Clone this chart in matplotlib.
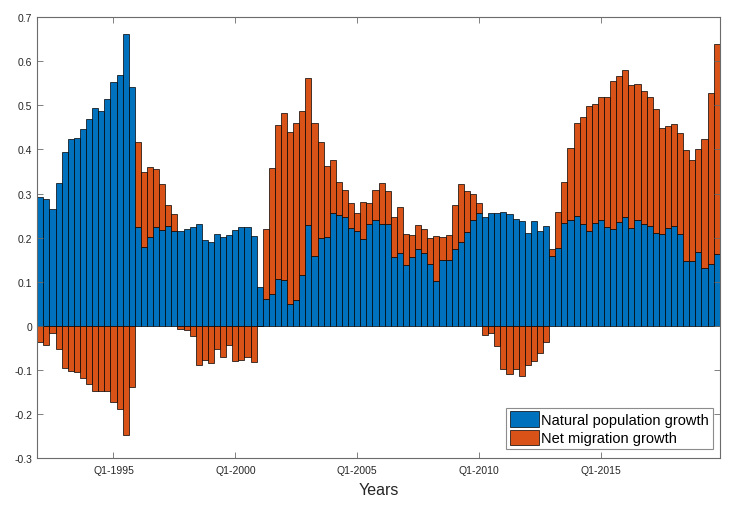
import numpy as np
import matplotlib
matplotlib.use("Agg")
import matplotlib.pyplot as plt

# quarterly series, Q1-1992 .. Q4-2019
start_year = 1992
natural = [
    0.293, 0.288, 0.265, 0.323, 0.394, 0.423, 0.425, 0.446, 0.469, 0.495, 0.487, 0.514,
    0.552, 0.570, 0.663, 0.541, 0.225, 0.178, 0.202, 0.223, 0.217, 0.226, 0.214, 0.215,
    0.220, 0.224, 0.231, 0.195, 0.190, 0.207, 0.202, 0.206, 0.217, 0.223, 0.224, 0.203,
    0.087, 0.061, 0.072, 0.106, 0.103, 0.050, 0.059, 0.115, 0.228, 0.159, 0.200, 0.202,
    0.256, 0.251, 0.247, 0.222, 0.216, 0.196, 0.231, 0.240, 0.230, 0.230, 0.156, 0.165,
    0.137, 0.156, 0.175, 0.165, 0.141, 0.101, 0.148, 0.150, 0.173, 0.190, 0.213, 0.240,
    0.256, 0.246, 0.255, 0.255, 0.258, 0.254, 0.243, 0.237, 0.210, 0.237, 0.214, 0.226,
    0.158, 0.177, 0.232, 0.240, 0.250, 0.230, 0.215, 0.234, 0.239, 0.225, 0.220, 0.235,
    0.246, 0.221, 0.241, 0.230, 0.227, 0.211, 0.208, 0.222, 0.226, 0.207, 0.146, 0.146,
    0.167, 0.130, 0.140, 0.163,
]
migration = [
    -0.038, -0.043, -0.016, -0.052, -0.096, -0.102, -0.104, -0.119, -0.132, -0.149, -0.149, -0.149,
    -0.172, -0.190, -0.248, -0.140, 0.193, 0.171, 0.159, 0.133, 0.104, 0.047, 0.040, -0.008,
    -0.009, -0.024, -0.089, -0.078, -0.085, -0.053, -0.070, -0.043, -0.080, -0.078, -0.072, -0.083,
    0.000, 0.159, 0.285, 0.350, 0.380, 0.390, 0.401, 0.373, 0.334, 0.302, 0.216, 0.161,
    0.120, 0.075, 0.061, 0.056, 0.039, 0.085, 0.048, 0.068, 0.094, 0.076, 0.091, 0.105,
    0.072, 0.050, 0.053, 0.055, 0.057, 0.102, 0.053, 0.056, 0.100, 0.131, 0.093, 0.060,
    0.023, -0.020, -0.017, -0.045, -0.098, -0.109, -0.098, -0.115, -0.089, -0.079, -0.062, -0.036,
    0.017, 0.081, 0.094, 0.163, 0.210, 0.244, 0.283, 0.269, 0.279, 0.295, 0.335, 0.332,
    0.335, 0.326, 0.308, 0.303, 0.292, 0.281, 0.240, 0.231, 0.231, 0.231, 0.252, 0.231,
    0.235, 0.294, 0.389, 0.476,
]
tick_years = [1995, 2000, 2005, 2010, 2015]
series_names = ["Natural population growth", "Net migration growth"]

blue = "#0072BD"
orange = "#D95319"
axis_col = "#6b6b6b"

plt.rcParams['font.family'] = ['Liberation Sans', 'DejaVu Sans']

nat = np.array(natural)
mig = np.array(migration)
x = np.arange(1, len(nat) + 1)

fig = plt.figure(figsize=(7.37, 5.06), dpi=100)
ax = fig.add_axes([0.0506, 0.093, 0.926, 0.871])

ax.bar(x, nat, width=1.0, color=blue, edgecolor="black", linewidth=0.5,
       label=series_names[0])
# positive migration sits on top of natural growth, negative hangs below zero
ax.bar(x, mig, width=1.0, bottom=np.where(mig > 0, nat, 0), color=orange,
       edgecolor="black", linewidth=0.5, label=series_names[1])

ax.set_xlim(0.5, len(nat) + 0.5)
ax.set_ylim(-0.3, 0.7)
ax.set_yticks(np.arange(-0.3, 0.71, 0.1))
ax.set_yticklabels(["-0.3", "-0.2", "-0.1", "0", "0.1", "0.2", "0.3",
                    "0.4", "0.5", "0.6", "0.7"])
ax.set_xticks([(y - start_year) * 4 + 1 for y in tick_years])
ax.set_xticklabels([f"Q1-{y}" for y in tick_years])

ax.tick_params(axis="both", direction="in", length=4, width=0.6,
               color=axis_col, labelsize=7.5, labelcolor="#262626",
               top=True, right=True)
ax.tick_params(axis="x", pad=5)
for s in ax.spines.values():
    s.set_color(axis_col)
    s.set_linewidth(0.8)

ax.set_xlabel("Years", fontsize=11.5, color="#262626", labelpad=5)

leg = ax.legend(loc="lower right", bbox_to_anchor=(0.9897, 0.0204),
                fontsize=10.5, fancybox=False, framealpha=1,
                edgecolor="#8c8c8c", borderpad=0.25, labelspacing=0.2,
                handlelength=2.0, handleheight=1.25, handletextpad=0.15,
                borderaxespad=0)
leg.get_frame().set_linewidth(0.8)

fig.savefig("out.png", dpi=100)
